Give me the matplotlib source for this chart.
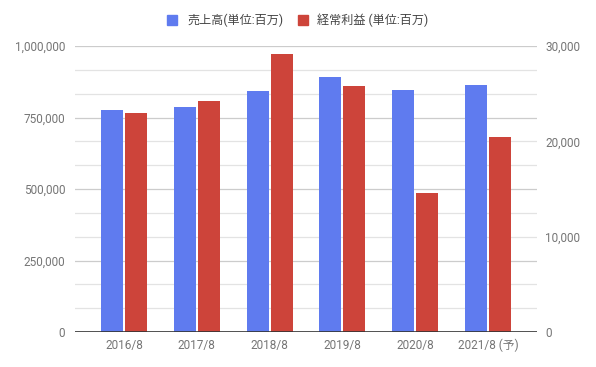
import matplotlib
matplotlib.use("Agg")
import matplotlib.pyplot as plt
from matplotlib.patches import Rectangle
import numpy as np

categories = ["2016/8", "2017/8", "2018/8", "2019/8", "2020/8", "2021/8 (予)"]
sales = [776000, 787000, 843000, 890000, 846000, 864000]
ordinary_profit = [22970, 24230, 29160, 25800, 14550, 20450]
series_names = ["売上高(単位:百万)", "経常利益 (単位:百万)"]
left_ticks = [0, 250000, 500000, 750000, 1000000]
right_ticks = [0, 10000, 20000, 30000]

plt.rcParams['font.family'] = ['Roboto', 'Noto Sans CJK JP', 'DejaVu Sans']

W, H = 596, 367
fig = plt.figure(figsize=(W/100, H/100), dpi=100)
x0, x1 = 75, 537
yb, yt = 332, 46
ax = fig.add_axes([x0/W, (H-yb)/H, (x1-x0)/W, (yb-yt)/H])
ax2 = ax.twinx()

blue = "#5F7BEF"
red = "#CD443A"
grey = "#757575"

x = np.arange(len(categories))
bw = 0.300
off = 0.165
pad = 0.173
ax.set_xlim(-0.5 - pad, len(categories) - 0.5 + pad)
ax.set_ylim(0, 1000000)
ax2.set_ylim(0, 30000)

# gridlines
for i in range(1, 13):
    v = i / 12 * 1000000
    c = "#cccccc" if i % 3 == 0 else "#e3e3e3"
    ax.axhline(v, color=c, lw=0.9, zorder=0)

ax.bar(x - off, sales, width=bw, color=blue, zorder=2)
ax2.bar(x + off, ordinary_profit, width=bw, color=red, zorder=2)
ax2.axhline(0, color="#333333", lw=1.2, zorder=3)

ax.set_yticks(left_ticks)
ax.set_yticklabels([f"{v:,}" for v in left_ticks])
ax2.set_yticks(right_ticks)
ax2.set_yticklabels([f"{v:,}" for v in right_ticks])
ax.set_xticks(x)
ax.set_xticklabels(categories)

for a in (ax, ax2):
    for s in a.spines.values():
        s.set_visible(False)
    a.tick_params(length=0, labelsize=8.5, labelcolor=grey)
ax.tick_params(axis='y', pad=7)
ax2.tick_params(axis='y', pad=6)
ax.tick_params(axis='x', pad=5)

# legend
ly = (H - 20) / H
for (sx, tx, col, name) in [(167, 187, blue, series_names[0]), (298, 317, red, series_names[1])]:
    fig.patches.append(Rectangle((sx/W, (H-24.5)/H), 9.5/W, 9.5/H, transform=fig.transFigure,
                                 color=col, figure=fig))
    fig.text(tx/W, ly, name, fontsize=8.7, color="#444444", va='center', ha='left')

fig.savefig("out.png", dpi=100, facecolor="white")
